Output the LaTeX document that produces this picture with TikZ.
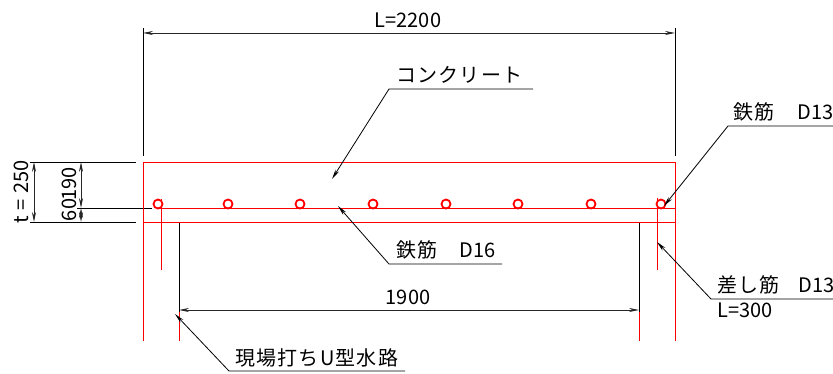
\documentclass[tikz,border=0pt]{standalone}
\usepackage{fontspec}
\setmainfont{Noto Sans CJK JP}
\newfontfamily\kanafont[LetterSpace=6]{Noto Sans CJK JP}
\newfontfamily\digitfont{Noto Sans CJK JP}
\usetikzlibrary{arrows.meta,positioning}

\begin{document}
\begin{tikzpicture}[
    x=1pt, y=-1pt,
    redline/.style={red, line width=0.7pt},
    blackline/.style={black, line width=0.8pt},
    dimline/.style={black!85, line width=0.9pt, {Stealth[length=10pt,width=4pt]}-{Stealth[length=10pt,width=4pt]}},
    leader/.style={black, line width=0.8pt, {Stealth[length=10pt,width=4pt]}-},
    rebar/.style={circle, draw=red, line width=1.8pt, fill=white, minimum size=9pt, inner sep=0pt},
    dimtext/.style={font=\digitfont\fontsize{20}{20}\selectfont, text=black, inner sep=0pt},
    notetext/.style={font=\kanafont\fontsize{20}{20}\selectfont, text=black, inner sep=0pt, anchor=base west}
]
\useasboundingbox (0,0) rectangle (833,374);

% extension lines
\draw[blackline] (143,28) -- (143,156);
\draw[blackline] (675,28) -- (675,156);
\draw[blackline] (30,162) -- (136,162);
\draw[blackline] (30,222) -- (136,222);
\draw[blackline] (77,208) -- (152,208);
\draw[blackline] (179,222) -- (179,312);
\draw[blackline] (639,222) -- (639,312);

% concrete and walls
\draw[redline] (143,341) -- (143,162) -- (675,162) -- (675,341);
\draw[redline] (158,208) -- (675,208);
\draw[redline] (143,222) -- (675,222);
\draw[redline] (179,312) -- (179,341);
\draw[redline] (639,312) -- (639,341);
\draw[redline] (161,199) -- (161,270);
\draw[redline] (657,198) -- (657,270);

% rebars
\foreach \i/\px in {1/158,2/228,3/300,4/373,5/446,6/518,7/591,8/661}
    \node[rebar] (bar\i) at (\px,204) {};

% dimensions
\coordinate (topL) at (143,33);
\coordinate (topR) at (675,33);
\draw[dimline] (topL) -- (topR);
\node[dimtext] (lentext) at (408,20) {L=2200};

\coordinate (thickT) at (34,162);
\coordinate (thickB) at (34,222);
\draw[dimline] (thickT) -- (thickB);
\node[dimtext, rotate=90] (thicktext) at (21,192) {t\hspace{6pt}=\hspace{6pt}250};

\coordinate (coverT) at (81,162);
\coordinate (coverM) at (81,208);
\coordinate (coverB) at (81,222);
\draw[dimline] (coverT) -- (coverM);
\draw[dimline] (coverM) -- (coverB);
\node[dimtext, rotate=90] (covertext) at (69,184) {190};
\node[dimtext, rotate=90] (bottomtext) at (69,210) {60};

\coordinate (wallL) at (179,310);
\coordinate (wallR) at (639,310);
\draw[dimline] (wallL) -- (wallR);
\node[dimtext] (widthtext) at (408,297) {1900};

% leaders
\coordinate (kneeC) at (389,89);
\coordinate (endC) at (533,89);
\coordinate (tipC) at (332,179);
\draw[leader] (tipC) -- (kneeC) -- (endC);
\node[notetext] (concrete) at (396,83) {コンクリート};

\coordinate (kneeM) at (389,264);
\coordinate (endM) at (502,264);
\coordinate (tipM) at (338,206);
\draw[leader] (tipM) -- (kneeM) -- (endM);
\node[notetext] (mainbar) at (396,258) {鉄筋\hspace{22pt}{\digitfont D16}};

\coordinate (kneeT) at (728,126);
\coordinate (endT) at (833,126);
\coordinate (tipT) at (664,206);
\draw[leader] (tipT) -- (kneeT) -- (endT);
\node[notetext] (topbar) at (733,120) {鉄筋\hspace{23pt}{\digitfont D13}};

\coordinate (kneeD) at (711,299);
\coordinate (endD) at (833,299);
\coordinate (tipD) at (657,242);
\draw[leader] (tipD) -- (kneeD) -- (endD);
\node[notetext] (dowel) at (717,293) {差し筋\hspace{19pt}{\digitfont D13}};
\node[notetext] (dowellen) at (717,317) {\digitfont L=300};

\coordinate (kneeU) at (229,371);
\coordinate (endU) at (405,371);
\coordinate (tipU) at (175,314);
\draw[leader] (tipU) -- (kneeU) -- (endU);
\node[notetext] (channel) at (235,365) {現場打ちU型水路};
\end{tikzpicture}
\end{document}
